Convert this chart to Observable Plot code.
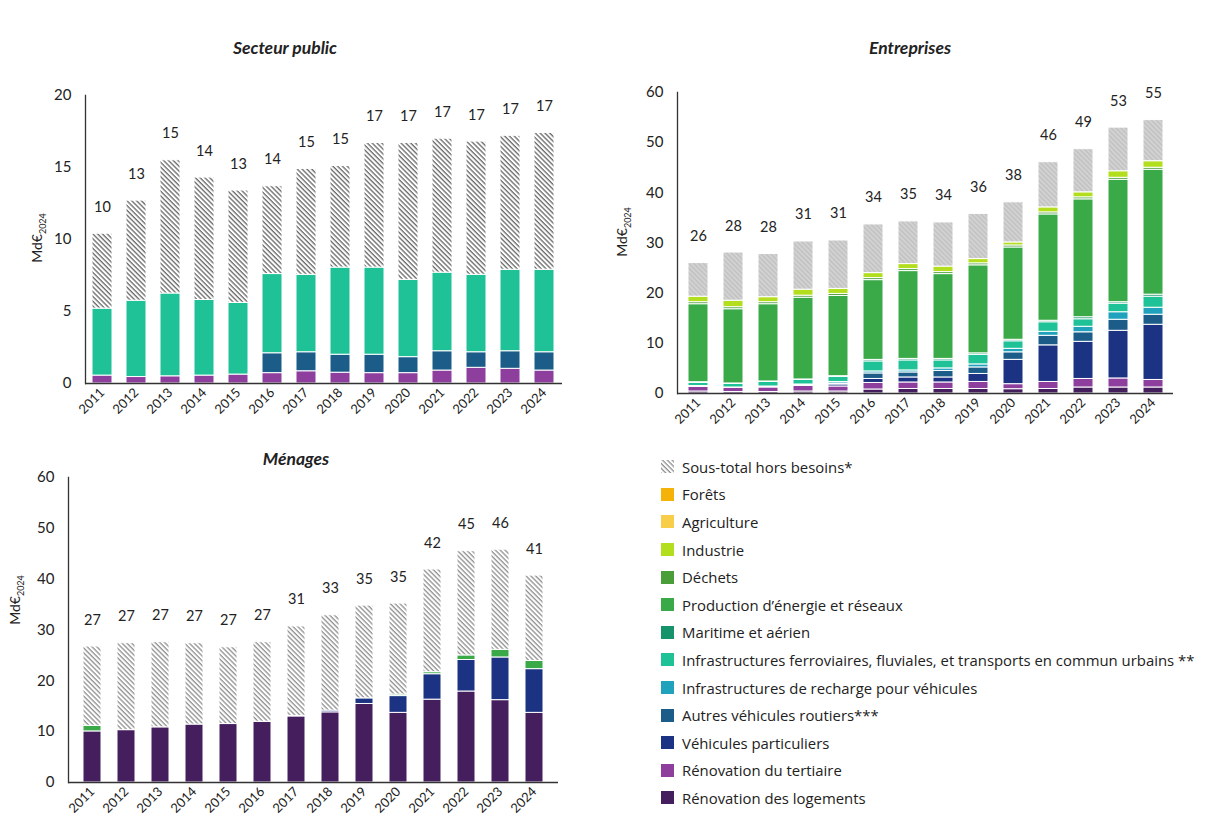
<!DOCTYPE html>
<html><head><meta charset="utf-8">
<script src="https://cdn.jsdelivr.net/npm/d3@7"></script>
<script src="https://cdn.jsdelivr.net/npm/@observablehq/plot@0.6"></script>
<style>
body{margin:0;background:#fff;width:1208px;height:828px;overflow:hidden;position:relative;font-family:Lato,"Open Sans",sans-serif;color:#222}
.abs{position:absolute}
.title{position:absolute;font-weight:700;font-style:italic;font-size:17.5px;transform:translate(-50%,-50%);white-space:nowrap}
.ylab{position:absolute;font-size:14px;transform:translate(-50%,-50%) rotate(-90deg);white-space:nowrap}
.ylab sub{font-size:9px}
.li{position:absolute;left:661px;font-family:"Open Sans",Lato,sans-serif;font-size:14.9px;display:flex;align-items:center;height:20px;white-space:nowrap;transform:translateY(-50%)}
.sw{width:13px;height:13px;margin-right:8px;display:block}
</style></head>
<body>
<svg width="0" height="0" style="position:absolute">
<defs>
<pattern id="hatchPublic" width="3.4" height="3.4" patternUnits="userSpaceOnUse" patternTransform="rotate(-45)">
<rect width="3.4" height="3.4" fill="#fff"/><line x1="1" y1="0" x2="1" y2="3.4" stroke="#4a4a4a" stroke-width="1.1"/>
</pattern>
<pattern id="hatchMenages" width="3.4" height="3.4" patternUnits="userSpaceOnUse" patternTransform="rotate(-45)">
<rect width="3.4" height="3.4" fill="#fff"/><line x1="1" y1="0" x2="1" y2="3.4" stroke="#7a7a7a" stroke-width="1.1"/>
</pattern>
<pattern id="hatchEnt" width="3.4" height="3.4" patternUnits="userSpaceOnUse" patternTransform="rotate(-45)">
<rect width="3.4" height="3.4" fill="#d2d2d2"/><line x1="1" y1="0" x2="1" y2="3.4" stroke="#bcbcbc" stroke-width="1.1"/>
</pattern>
</defs>
</svg>
<div class="title" style="left:285px;top:47px">Secteur public</div>
<div class="title" style="left:910px;top:47px">Entreprises</div>
<div class="title" style="left:296px;top:458px">Ménages</div>
<div class="ylab" style="left:38px;top:238px">Md€<sub>2024</sub></div>
<div class="ylab" style="left:623px;top:232px">Md€<sub>2024</sub></div>
<div class="ylab" style="left:16px;top:600px">Md€<sub>2024</sub></div>
<div id="c1" class="abs" style="left:0;top:80px"></div>
<div id="c2" class="abs" style="left:600px;top:75px"></div>
<div id="c3" class="abs" style="left:0;top:460px"></div>
<div id="legend"></div>
<script>
// ---------- data ----------
const years = ["2011","2012","2013","2014","2015","2016","2017","2018","2019","2020","2021","2022","2023","2024"];

const categories = [
  "Rénovation des logements",
  "Rénovation du tertiaire",
  "Véhicules particuliers",
  "Autres véhicules routiers***",
  "Infrastructures de recharge pour véhicules",
  "Infrastructures ferroviaires, fluviales, et transports en commun urbains **",
  "Maritime et aérien",
  "Production d’énergie et réseaux",
  "Déchets",
  "Industrie",
  "Agriculture",
  "Forêts",
  "Sous-total hors besoins*"
];
const categoryColors = ["#451e5e","#8e3f9e","#1c3282","#1b5c88","#20a2bd","#1fc296","#16936b","#3aaa48","#4a9e3a","#b3de1e","#f7cd4a","#f5b30a","HATCH"];

// Secteur public (Md€2024)
const publicTertiaire = [0.55,0.45,0.5,0.55,0.62,0.72,0.85,0.75,0.72,0.72,0.9,1.09,1.02,0.9];
const publicAutresVehicules = [0,0,0,0,0,1.38,1.32,1.25,1.28,1.11,1.34,1.08,1.22,1.27];
const publicFerroviaire = [4.65,5.3,5.75,5.25,4.98,5.5,5.38,6.05,6.05,5.37,5.46,5.38,5.66,5.73];
const publicHorsBesoins = [5.2,6.95,9.25,8.5,7.8,6.1,7.35,7.05,8.65,9.5,9.3,9.25,9.3,9.5];
const publicTotalLabels = [10,13,15,14,13,14,15,15,17,17,17,17,17,17];

// Entreprises (Md€2024)
const entLogements = [0.4,0.3,0.3,0.4,0.4,0.8,0.9,0.9,0.9,0.86,0.9,1.2,1.2,1.2];
const entTertiaire = [0.9,0.8,0.9,1.1,1.0,1.3,1.3,1.3,1.4,1.0,1.4,1.7,1.8,1.5];
const entVehiculesParticuliers = [0,0,0,0,0.4,0.8,1.0,1.0,1.6,4.85,7.3,7.4,9.5,11.0];
const entAutresVehicules = [0.2,0.1,0.1,0.1,0.2,1.1,1.0,1.3,1.3,1.5,1.9,1.9,2.2,2.0];
const entRecharge = [0,0,0.1,0.2,0.3,0.4,0.4,0.5,0.6,0.7,0.8,1.1,1.5,1.4];
const entFerroviaire = [0.6,0.7,0.9,0.9,1.0,2.0,2.0,1.6,1.9,1.5,1.9,1.5,1.7,2.2];
const entMaritime = [0.15,0.1,0.1,0.1,0.15,0.3,0.3,0.3,0.3,0.3,0.3,0.4,0.3,0.4];
const entProduction = [15.55,14.8,15.4,16.3,16.0,15.9,17.5,16.9,17.55,18.4,21.2,23.5,24.4,24.9];
const entDechets = [0.4,0.4,0.4,0.4,0.4,0.4,0.4,0.4,0.4,0.4,0.4,0.4,0.4,0.4];
const entIndustrie = [1.1,1.3,1.0,1.2,1.0,1.0,1.0,1.1,0.85,0.6,1.0,1.0,1.3,1.3];
const entHorsBesoins = [6.7,9.6,8.6,9.6,9.65,9.7,8.5,8.8,9.0,8.0,9.0,8.6,8.7,8.2];
const entTotalLabels = [26,28,28,31,31,34,35,34,36,38,46,49,53,55];

// Ménages (Md€2024)
const menLogements = [10.05,10.3,10.85,11.4,11.5,11.95,13.0,13.8,15.45,13.7,16.3,17.9,16.2,13.7];
const menVehiculesParticuliers = [0,0,0,0,0,0,0.1,0.35,1.1,3.3,5.0,6.2,8.4,8.6];
const menProduction = [1.1,0,0,0,0,0,0,0,0,0.3,0.4,0.9,1.5,1.6];
const menHorsBesoins = [15.6,17.1,16.75,16.0,15.1,15.65,17.6,18.75,18.25,17.9,20.2,20.5,19.7,16.8];
const menTotalLabels = [27,27,27,27,27,27,31,33,35,35,42,45,46,41];

const yTicksPublic = [0,5,10,15,20];
const yTicksEnt = [0,10,20,30,40,50,60];
const yTicksMen = [0,10,20,30,40,50,60];

// ---------- drawing ----------
const FONT = "Lato, 'Open Sans', sans-serif";
function chart({series, labels, yMax, yTicks, width, height, mt, mb, ml, mr, pi, po, hatch}) {
  const rows = [];
  for (const [cat, vals] of series) years.forEach((y, i) => { if (vals[i] > 0) rows.push({year: y, cat, value: vals[i]}); });
  const tops = years.map((y, i) => ({year: y, top: d3.sum(series, s => s[1][i]), label: String(labels[i])}));
  return Plot.plot({
    width, height, marginTop: mt, marginBottom: mb, marginLeft: ml, marginRight: mr,
    style: {fontFamily: FONT, color: "#222", background: "transparent", overflow: "visible"},
    x: {type: "band", domain: years, paddingInner: pi, paddingOuter: po, label: null},
    y: {domain: [0, yMax], label: null},
    color: {domain: categories, range: categoryColors.map(c => c === "HATCH" ? `url(#${hatch})` : c)},
    marks: [
      Plot.barY(rows, {x: "year", y: "value", fill: "cat", order: categories, stroke: "white", strokeWidth: 1}),
      Plot.text(tops, {x: "year", y: "top", text: "label", dy: -22, lineAnchor: "bottom", fontSize: 14.5, fill: "#222"}),
      Plot.frame({anchor: "left", stroke: "#333", strokeWidth: 1.3}),
      Plot.ruleY([0], {stroke: "#333", strokeWidth: 1.3}),
      Plot.axisY({ticks: yTicks, tickSize: 0, tickPadding: 14, fontSize: 15, label: null}),
      Plot.axisX({tickSize: 0, tickRotate: -45, tickPadding: 7, fontSize: 13, label: null})
    ]
  });
}

document.getElementById("c1").append(chart({
  series: [[categories[1], publicTertiaire],[categories[3], publicAutresVehicules],[categories[5], publicFerroviaire],[categories[12], publicHorsBesoins]],
  labels: publicTotalLabels, yMax: 20, yTicks: yTicksPublic,
  width: 580, height: 345, mt: 15, mb: 42, ml: 85, mr: 18, pi: 0.41, po: 0.2, hatch: "hatchPublic"
}));
document.getElementById("c2").append(chart({
  series: [[categories[0], entLogements],[categories[1], entTertiaire],[categories[2], entVehiculesParticuliers],[categories[3], entAutresVehicules],
           [categories[4], entRecharge],[categories[5], entFerroviaire],[categories[6], entMaritime],[categories[7], entProduction],
           [categories[8], entDechets],[categories[9], entIndustrie],[categories[12], entHorsBesoins]],
  labels: entTotalLabels, yMax: 60, yTicks: yTicksEnt,
  width: 590, height: 363, mt: 17, mb: 45, ml: 77, mr: 17, pi: 0.44, po: 0.2, hatch: "hatchEnt"
}));
document.getElementById("c3").append(chart({
  series: [[categories[0], menLogements],[categories[2], menVehiculesParticuliers],[categories[7], menProduction],[categories[12], menHorsBesoins]],
  labels: menTotalLabels, yMax: 60, yTicks: yTicksMen,
  width: 580, height: 368, mt: 17, mb: 46, ml: 68, mr: 22, pi: 0.46, po: 0.24, hatch: "hatchMenages"
}));

// legend (top to bottom = reverse of stack order)
const legend = document.getElementById("legend");
categories.slice().reverse().forEach((cat, k) => {
  const idx = categories.indexOf(cat);
  const col = categoryColors[idx];
  const item = document.createElement("div");
  item.className = "li";
  item.style.top = (466.7 + k * 27.6) + "px";
  const fill = col === "HATCH" ? "url(#hatchMenages)" : col;
  item.innerHTML = `<svg class="sw" width="13" height="13"><rect width="13" height="13" fill="${fill}"/></svg><span>${cat}</span>`;
  legend.append(item);
});
</script>
</body></html>
